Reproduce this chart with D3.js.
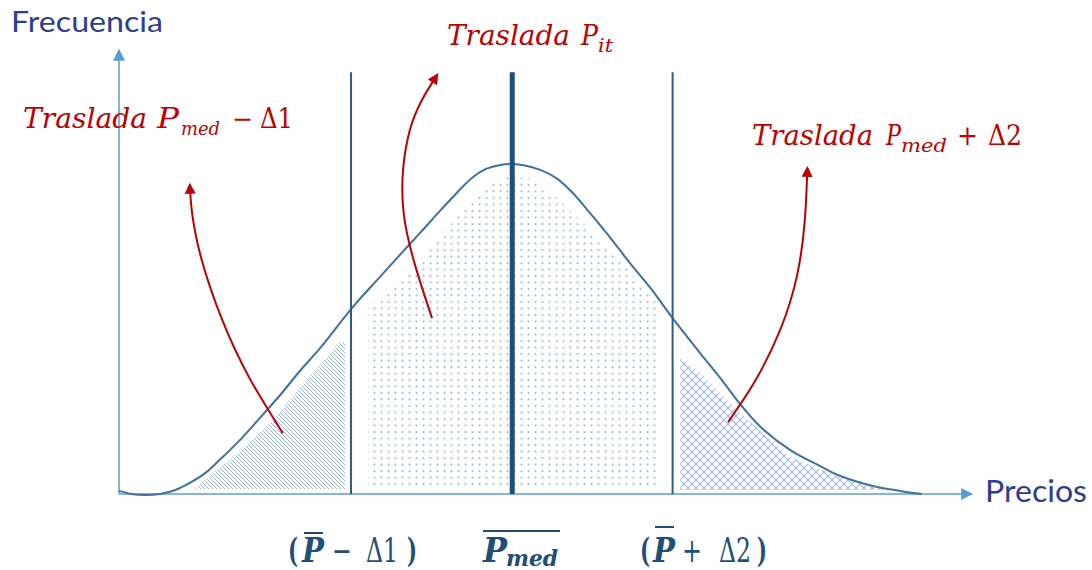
<!DOCTYPE html>
<html><head><meta charset="utf-8">
<script src="https://cdn.jsdelivr.net/npm/d3@7"></script>
<style>body{margin:0;background:#fff}svg{display:block}</style>
</head><body>
<svg id="c" width="1092" height="570"></svg>
<script>
// ---- data (price units 0..100, frequency units 0..100) ----
const curveX = [0,1.5,3.0,4.8,6.6,8.3,10.1,11.8,14.2,16.5,18.9,21.2,23.6,27.4,30.6,32.9,35.3,37.6,39.4,41.2,42.9,44.7,46.1,47.6,49.4,51.3,53.2,55.2,57.6,59.9,62.3,64.9,68.1,70.5,72.8,75.1,78.7,82.2,84.5,88.4,91.6,94.1];
const curveY = [0.7,0,-0.2,0,0.9,2.5,4.7,7.7,12.2,17.1,22.3,27.7,32.9,42.1,48.9,53.8,58.8,63.7,67.4,70.9,73.1,74.1,74.3,74.0,73.0,71.1,67.8,63.3,57.7,52.0,46.4,39.6,31.8,26.1,20.3,15.3,9.9,6.3,4.1,1.8,0.7,0];
const markers = [27.2, 46.1, 64.9];          // P-Δ1, Pmed, P+Δ2
const markerTop = 95;
const leftZoneX  = [8.7,13.4,18.1,22.0,25.9,26.5,26.5];
const leftZoneY  = [1.1,8.3,16.7,25.7,34.2,34.2,1.1];
const midZoneX   = [29.2,29.2,32.9,36.5,40.0,42.3,44.3,46.1,47.9,51.1,53.5,56.4,59.9,63.2,63.2];
const midZoneY   = [1.4,41.9,47.5,55.0,63.5,68.0,70.7,71.6,71.2,67.1,62.8,57.2,50.0,42.6,1.4];
const rightZoneX = [65.8,68.1,72.8,78.7,84.5,90.0,65.8];
const rightZoneY = [30.6,27.3,18.2,8.3,3.8,0.9,0.9];
const arrowLeftX  = [19.2,15.3,12.1,9.7,8.6,8.3];
const arrowLeftY  = [13.7,26.1,39.2,52.7,62.8,69.6];
const arrowMidX   = [36.7,34.7,33.4,33.3,34.1,35.5,37.3];
const arrowMidY   = [39.6,51.6,62.8,73.0,82.0,88.7,94.4];
const arrowRightX = [71.4,74.5,77.5,79.5,80.4,80.7];
const arrowRightY = [16.2,25.2,36.9,49.3,61.7,73.4];
const xAxisLabel = "Precios", yAxisLabel = "Frecuencia";

const svg = d3.select("#c");
const x = d3.scaleLinear().domain([0,100]).range([119,972]);
const y = d3.scaleLinear().domain([0,100]).range([494,50]);
const zip = (a,b) => a.map((v,i)=>[v,b[i]]);

const defs = svg.append("defs");
const ph = defs.append("pattern").attr("id","hatch").attr("patternUnits","userSpaceOnUse").attr("width",4).attr("height",4);
ph.append("path").attr("d","M-1,-1L5,5M3,-1L5,1M-1,3L1,5").attr("stroke","#9ab2e2").attr("stroke-width",1);
const pd = defs.append("pattern").attr("id","dots").attr("patternUnits","userSpaceOnUse").attr("width",7).attr("height",6.5);
pd.append("circle").attr("cx",3.5).attr("cy",3).attr("r",1).attr("fill","#8eaadb");
const pc = defs.append("pattern").attr("id","cross").attr("patternUnits","userSpaceOnUse").attr("width",8).attr("height",8);
pc.append("path").attr("d","M0,0L8,8M8,0L0,8").attr("stroke","#a0b7e4").attr("stroke-width",1.1);
defs.append("marker").attr("id","ab").attr("viewBox","0 0 10 10").attr("refX",9).attr("refY",5)
  .attr("markerWidth",12).attr("markerHeight",12).attr("markerUnits","userSpaceOnUse").attr("orient","auto")
  .append("path").attr("d","M0,0L10,5L0,10Z").attr("fill","#5b9bd5");
defs.append("marker").attr("id","ar").attr("viewBox","0 0 10 10").attr("refX",8).attr("refY",5)
  .attr("markerWidth",12).attr("markerHeight",11).attr("markerUnits","userSpaceOnUse").attr("orient","auto")
  .append("path").attr("d","M0,0L10,5L0,10Z").attr("fill","#c00000");

const poly = d3.line().x(d=>x(d[0])).y(d=>y(d[1]));
const smoothPoly = d3.line().x(d=>x(d[0])).y(d=>y(d[1])).curve(d3.curveCatmullRom.alpha(0.5));
svg.append("path").attr("d",poly(zip(leftZoneX,leftZoneY))+"Z").attr("fill","url(#hatch)");
svg.append("path").attr("d",poly(zip(midZoneX,midZoneY))+"Z").attr("fill","url(#dots)");
svg.append("path").attr("d",poly(zip(rightZoneX,rightZoneY))+"Z").attr("fill","url(#cross)");

// axes
svg.append("line").attr("x1",x(0)).attr("y1",y(0)).attr("x2",x(100)).attr("y2",y(0))
  .attr("stroke","#5b9bd5").attr("stroke-width",1.5).attr("marker-end","url(#ab)");
svg.append("line").attr("x1",x(0)).attr("y1",y(0)).attr("x2",x(0)).attr("y2",y(100))
  .attr("stroke","#5b9bd5").attr("stroke-width",1.5).attr("marker-end","url(#ab)");

// curve
svg.append("path").attr("d",smoothPoly(zip(curveX,curveY)))
  .attr("fill","none").attr("stroke","#41719c").attr("stroke-width",2);

// vertical marker lines
svg.selectAll("line.m").data(markers).join("line").attr("class","m")
  .attr("x1",d=>x(d)).attr("x2",d=>x(d)).attr("y1",y(0)).attr("y2",y(markerTop))
  .attr("stroke",(d,i)=>i===1?"#1f4e79":"#2f5b86").attr("stroke-width",(d,i)=>i===1?5:2);

// red arrows
const cl = d3.line().x(d=>x(d[0])).y(d=>y(d[1])).curve(d3.curveNatural);
[[arrowLeftX,arrowLeftY],[arrowMidX,arrowMidY],[arrowRightX,arrowRightY]].forEach(([a,b])=>{
  svg.append("path").attr("d",cl(zip(a,b))).attr("fill","none").attr("stroke","#c00000")
    .attr("stroke-width",2).attr("marker-end","url(#ar)");
});

// axis titles
svg.append("text").attr("x",11).attr("y",32).attr("font-family","Lato").attr("font-size",28)
  .attr("fill","#2f3d8f").attr("textLength",152).attr("lengthAdjust","spacingAndGlyphs").text(yAxisLabel);
svg.append("text").attr("x",985).attr("y",502).attr("font-family","Lato").attr("font-size",31)
  .attr("fill","#2f3d8f").attr("textLength",102).attr("lengthAdjust","spacingAndGlyphs").text(xAxisLabel);

// multi-part labels: one <text>, positioned tspans
function label(color, family, parts){
  const t = svg.append("text").attr("fill",color).attr("font-family",family);
  parts.forEach(p=>{
    const s = t.append("tspan").attr("x",p.x).attr("y",p.y).attr("font-size",p.size)
      .attr("font-style",p.it?"italic":"normal").attr("font-weight",p.b?"bold":"normal").text(p.t);
    if(p.len) s.attr("textLength",p.len).attr("lengthAdjust","spacingAndGlyphs");
  });
  return t;
}
const R = "#c00000";
label(R,"DejaVu Serif",[
  {x:23,y:128,t:"Traslada",size:27,it:1,len:124},
  {x:157,y:128,t:"P",size:27,it:1,len:22},
  {x:181,y:135,t:"med",size:19,it:1,len:39},
  {x:232,y:128,t:"−",size:27,len:21},
  {x:260,y:128,t:"Δ1",size:27,len:33}]);
label(R,"DejaVu Serif",[
  {x:447,y:45,t:"Traslada",size:27,it:1,len:123},
  {x:581,y:45,t:"P",size:27,it:1,len:17},
  {x:598,y:52,t:"it",size:19,it:1,len:15}]);
label(R,"DejaVu Serif",[
  {x:752,y:145,t:"Traslada",size:27,it:1,len:121},
  {x:886,y:145,t:"P",size:27,it:1,len:15},
  {x:901,y:152,t:"med",size:19,it:1,len:46},
  {x:957,y:145,t:"+",size:27,len:21},
  {x:988,y:145,t:"Δ2",size:27,len:34}]);

// bottom labels
const B = "#1f4e79";
function over(x1,x2,yy){svg.append("line").attr("x1",x1).attr("x2",x2).attr("y1",yy).attr("y2",yy).attr("stroke",B).attr("stroke-width",2);}
label(B,"DejaVu Serif",[
  {x:288,y:562,t:"(",size:33,b:1,len:10},
  {x:302,y:562,t:"P",size:33,b:1,it:1,len:22},
  {x:332,y:562,t:"−",size:33,len:20},
  {x:366,y:562,t:"Δ1",size:33,len:32},
  {x:407,y:562,t:")",size:33,b:1,len:10}]);
over(304,323,533);
label(B,"DejaVu Serif",[
  {x:483,y:562,t:"P",size:33,b:1,it:1,len:24},
  {x:506,y:566,t:"med",size:22,b:1,it:1,len:52}]);
over(483,560,531);
label(B,"DejaVu Serif",[
  {x:640,y:562,t:"(",size:33,b:1,len:10},
  {x:653,y:562,t:"P",size:33,b:1,it:1,len:22},
  {x:682,y:562,t:"+",size:33,len:20},
  {x:719,y:562,t:"Δ2",size:33,len:32},
  {x:757,y:562,t:")",size:33,b:1,len:10}]);
over(655,674,527);
</script>
</body></html>
